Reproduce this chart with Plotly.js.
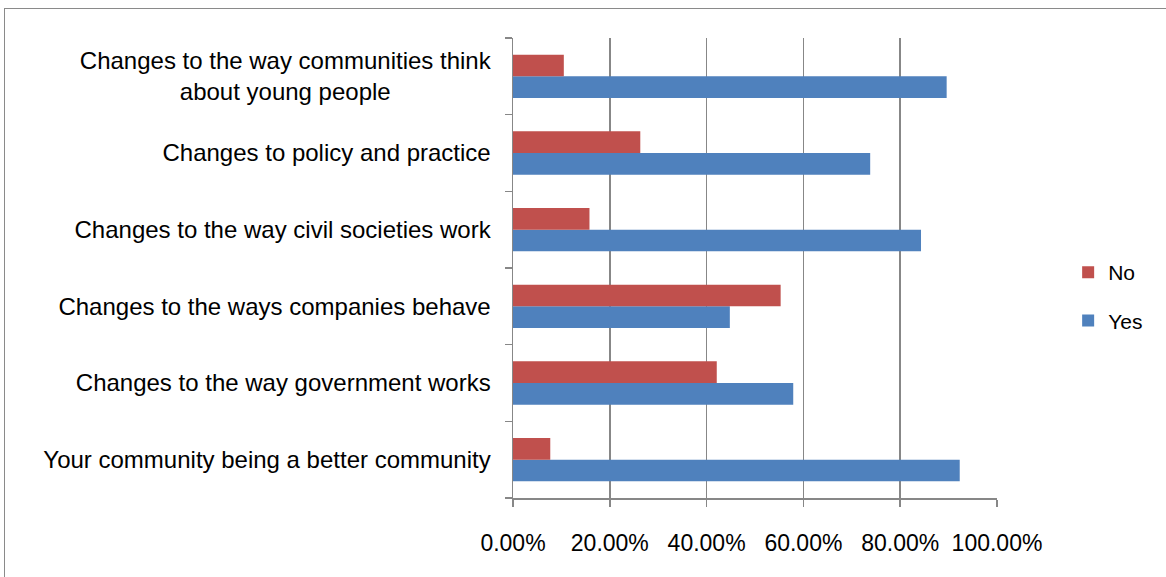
<!DOCTYPE html>
<html>
<head>
<meta charset="utf-8">
<script src="https://cdn.plot.ly/plotly-3.0.1.min.js"></script>
<style>
  html, body { margin: 0; padding: 0; background: #fff; overflow: hidden; }
  #frame { position: absolute; left: 4px; top: 8px; width: 1200px; height: 620px; border: 1px solid #8a8a8a; box-sizing: border-box; }
  #chart { position: absolute; left: 0; top: 0; width: 1166px; height: 577px; }
</style>
</head>
<body>
<div id="frame"></div>
<div id="chart"></div>
<script>
const categories = [
  "Your community being a better community",
  "Changes to the way government works",
  "Changes to the ways companies behave",
  "Changes to the way civil societies work",
  "Changes to policy and practice",
  "Changes to the way communities think<br>about young people" + "\u00A0".repeat(15)
];
const yesValues = [0.923, 0.579, 0.448, 0.843, 0.738, 0.896];
const noValues  = [0.077, 0.421, 0.553, 0.158, 0.263, 0.105];
const xTickValues = [0, 0.2, 0.4, 0.6, 0.8, 1.0];
const xTickLabels = ["0.00%", "20.00%", "40.00%", "60.00%", "80.00%", "100.00%"];

const font = "Liberation Sans, Arial, sans-serif";

const traces = [
  { type: "bar", orientation: "h", name: "Yes", y: categories, x: yesValues,
    marker: { color: "#4F81BD" }, legendgroup: "yes", legendrank: 2, hoverinfo: "x+y" },
  { type: "bar", orientation: "h", name: "No", y: categories, x: noValues,
    marker: { color: "#C0504D" }, legendgroup: "no", legendrank: 1, hoverinfo: "x+y" }
];

const layout = {
  width: 1166, height: 577,
  margin: { l: 513, r: 169, t: 38, b: 79 },
  paper_bgcolor: "rgba(0,0,0,0)",
  plot_bgcolor: "rgba(0,0,0,0)",
  font: { family: font, size: 20, color: "#000" },
  barmode: "group",
  bargap: 0.434,
  bargroupgap: 0,
  showlegend: true,
  legend: {
    x: 1.147, xanchor: "left", y: 0.438, yanchor: "middle",
    traceorder: "grouped", tracegroupgap: 18,
    font: { family: font, size: 21 }, bgcolor: "rgba(0,0,0,0)"
  },
  xaxis: {
    range: [0, 1.0], tickvals: xTickValues, ticktext: xTickLabels,
    showgrid: true, gridcolor: "#878787", gridwidth: 1.5,
    showline: true, linecolor: "#878787", linewidth: 1.5,
    ticks: "outside", ticklen: 7, tickcolor: "#878787", tickwidth: 1.5,
    zeroline: false, fixedrange: true,
    ticklabelstandoff: 17,
    tickfont: { family: font, size: 23 }
  },
  yaxis: {
    type: "category", categoryorder: "array", categoryarray: categories,
    showline: true, linecolor: "#878787", linewidth: 1.5,
    ticks: "outside", ticklen: 7, tickcolor: "#878787", tickwidth: 1.5,
    tickson: "boundaries", showgrid: false, fixedrange: true,
    ticklabelstandoff: 16,
    tickfont: { family: font, size: 24 }
  }
};

Plotly.newPlot("chart", traces, layout, { displayModeBar: false, staticPlot: true });
</script>
</body>
</html>
